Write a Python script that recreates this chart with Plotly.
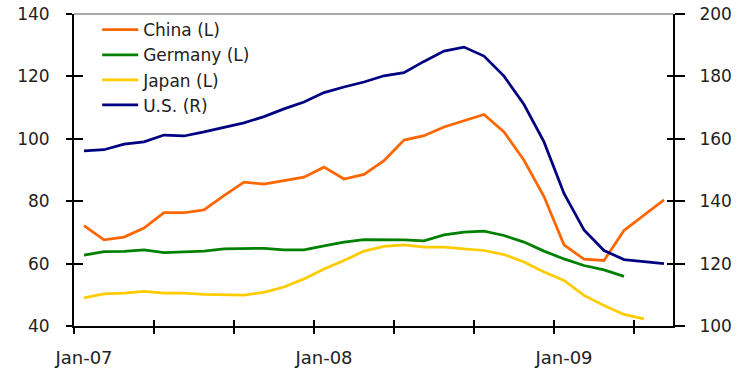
import numpy as np
import pandas as pd
import plotly.graph_objects as go

# Monthly index values, Jan-2007 onwards
months = pd.period_range("2007-01", "2009-06", freq="M")

china = [72.2, 67.6, 68.5, 71.4, 76.3, 76.3, 77.2, 81.8, 86.1, 85.5,
         86.6, 87.7, 90.9, 87.1, 88.6, 93.0, 99.6, 101.0, 103.8, 105.9,
         107.8, 102.2, 93.1, 81.5, 66.0, 61.4, 61.0, 70.6, 75.4, 80.4]
germany = [62.7, 63.8, 63.9, 64.4, 63.5, 63.8, 64.0, 64.7, 64.7, 64.9,
           64.4, 64.4, 65.7, 66.9, 67.7, 67.7, 67.6, 67.3, 69.2, 70.1,
           70.4, 69.0, 66.9, 64.0, 61.5, 59.4, 58.0, 55.9]
japan = [49.0, 50.3, 50.5, 51.1, 50.5, 50.5, 50.1, 49.9, 49.9, 50.8,
         52.5, 55.1, 58.3, 61.0, 64.0, 65.5, 66.0, 65.3, 65.3, 64.7,
         64.2, 62.9, 60.5, 57.3, 54.6, 49.8, 46.6, 43.7, 42.3]
us = [156.1, 156.5, 158.3, 159.0, 161.2, 160.9, 162.2, 163.7, 165.1, 167.1,
      169.6, 171.8, 174.8, 176.6, 178.2, 180.2, 181.2, 184.8, 188.1, 189.4,
      186.5, 180.1, 171.0, 159.0, 142.5, 130.8, 124.2, 121.3, 120.6, 120.0]

left_ticks = [40, 60, 80, 100, 120, 140]
right_ticks = [100, 120, 140, 160, 180, 200]
month_ticks = list(range(0, 30, 4))          # tick marks every 4 months
year_labels = {0: "Jan-07", 12: "Jan-08", 24: "Jan-09"}

# months plotted at mid-month on a month-index axis
x_mid = np.arange(len(months)) + 0.5
x_range = [0, 29.95]
left_range = [40, 140]
right_range = [100, 200]

TEXT = "#222222"
FONT = dict(family="DejaVu Sans", size=17, color=TEXT)
XFONT = dict(family="DejaVu Sans", size=18, color=TEXT)

fig = go.Figure()
series = [
    ("China (L)", china, "#FF6600", "y"),
    ("Germany (L)", germany, "#008000", "y"),
    ("Japan (L)", japan, "#FFCC00", "y"),
    ("U.S. (R)", us, "#000080", "y2"),
]
for name, vals, color, yax in series:
    fig.add_trace(go.Scatter(
        x=x_mid[:len(vals)], y=vals, name=name, mode="lines",
        line=dict(color=color, width=2.75), yaxis=yax, legendgroup=name,
    ))

# empty traces that register the companion tick axes
for xa, ya in [("x2", "y"), ("x", "y3"), ("x", "y4")]:
    fig.add_trace(go.Scatter(x=[], y=[], xaxis=xa, yaxis=ya,
                             showlegend=False, hoverinfo="skip"))

axis_common = dict(
    showline=True, linecolor="black", linewidth=2, showgrid=False,
    zeroline=False, tickcolor="black", tickwidth=1.5,
    automargin=False,
)
# companion axes that carry only the inner half of each tick mark
inner_ticks = dict(
    showline=False, showgrid=False, zeroline=False, showticklabels=False,
    ticks="inside", tickcolor="black", tickwidth=1.5,
    automargin=False, tickmode="array",
)

fig.update_layout(
    width=739, height=371,
    margin=dict(l=74, r=66, t=14, b=45),
    paper_bgcolor="white", plot_bgcolor="white",
    font=FONT,
    xaxis=dict(
        range=x_range, tickmode="array", tickvals=month_ticks,
        ticktext=[year_labels.get(m, "") for m in month_ticks],
        ticks="outside", ticklen=6, ticklabelshift=10, ticklabelstandoff=8,
        tickfont=XFONT, **axis_common,
    ),
    xaxis2=dict(range=x_range, tickvals=month_ticks, overlaying="x",
                anchor="y", side="bottom", ticklen=6, **inner_ticks),
    yaxis=dict(
        range=left_range, tickmode="array", tickvals=left_ticks,
        ticks="outside", ticklen=6, ticklabelstandoff=13,
        tickfont=FONT, **axis_common,
    ),
    yaxis2=dict(
        range=right_range, tickmode="array", tickvals=right_ticks,
        overlaying="y", side="right", anchor="x",
        ticks="outside", ticklen=10, ticklabelstandoff=11,
        tickfont=FONT, **axis_common,
    ),
    yaxis3=dict(range=left_range, tickvals=left_ticks, overlaying="y",
                anchor="x", side="left", ticklen=9, **inner_ticks),
    yaxis4=dict(range=right_range, tickvals=right_ticks, overlaying="y",
                anchor="x", side="right", ticklen=6, **inner_ticks),
    legend=dict(
        x=0.0387, y=1.006, xanchor="left", yanchor="top",
        bgcolor="rgba(0,0,0,0)", font=FONT, tracegroupgap=0,
        itemwidth=36,
    ),
    showlegend=True,
)

# thin frame line along the top of the plot area
fig.add_shape(type="line", xref="paper", yref="paper", x0=0, x1=1, y0=1, y1=1,
              line=dict(color="#555555", width=1))

fig.write_html("out.html")
